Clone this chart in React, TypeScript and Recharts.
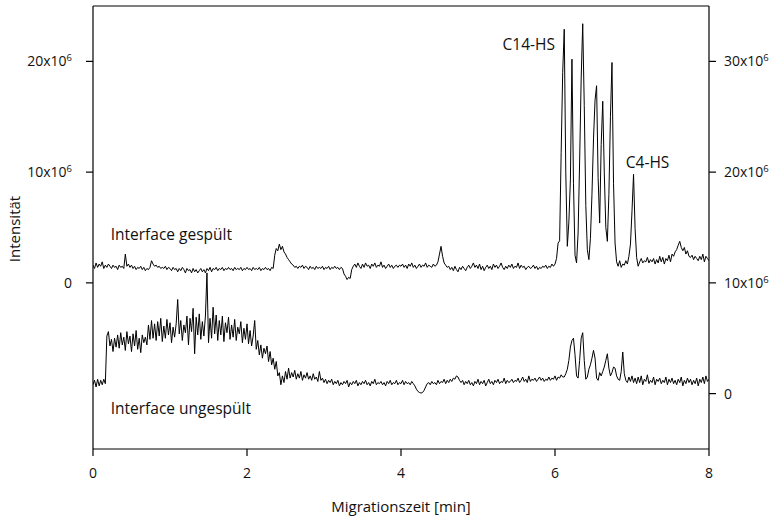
import React from 'react';
import { LineChart, Line, XAxis, YAxis, ReferenceLine, ReferenceDot } from 'recharts';

// sampling step of both electropherograms, in minutes
const TIME_STEP = 0.02;

// "Interface gespült" – intensity x10^6, read on the left axis (one row = 0.2 min)
const GESPUELT = [
  1.6, 1.3, 1.8, 1.4, 1.7, 1.5, 1.9, 1.3, 1.6, 1.4,
  1.7, 1.5, 1.3, 1.6, 1.4, 1.5, 1.2, 1.6, 1.4, 1.5,
  1.3, 2.6, 1.5, 1.7, 1.4, 1.6, 1.3, 1.5, 1.2, 1.4,
  1.3, 1.5, 1.2, 1.4, 1.1, 1.3, 1.2, 1.4, 2.0, 1.7,
  1.5, 1.6, 1.4, 1.5, 1.3, 1.4, 1.3, 1.5, 1.2, 1.4,
  1.3, 1.1, 1.4, 1.2, 1.3, 1.0, 1.3, 1.1, 1.4, 1.2,
  0.9, 1.3, 1.1, 1.2, 0.9, 1.3, 1.0, 1.2, 0.9, 1.1,
  1.3, 1.0, 1.2, 0.9, 1.3, 1.1, 1.4, 1.0, 1.3, 1.2,
  1.4, 1.1, 1.3, 1.2, 1.4, 1.1, 1.3, 1.2, 1.4, 1.2,
  1.3, 1.1, 1.4, 1.2, 1.3, 1.2, 1.4, 1.1, 1.3, 1.2,
  1.4, 1.2, 1.3, 1.1, 1.4, 1.2, 1.3, 1.2, 1.4, 1.1,
  1.3, 1.2, 1.4, 1.2, 1.3, 1.1, 1.4, 1.3, 2.5, 3.1,
  2.9, 3.5, 3.0, 3.3, 2.8, 2.6, 2.3, 2.1, 1.9, 1.7,
  1.6, 1.4, 1.5, 1.3, 1.5, 1.4, 1.6, 1.3, 1.5, 1.4,
  1.2, 1.5, 1.3, 1.4, 1.2, 1.5, 1.3, 1.4, 1.3, 1.5,
  1.2, 1.4, 1.3, 1.5, 1.2, 1.4, 1.3, 1.5, 1.3, 1.4,
  1.2, 1.4, 1.3, 0.8, 0.6, 0.3, 0.5, 0.4, 1.2, 1.5,
  1.7, 1.4, 1.8, 1.5, 1.3, 1.7, 1.4, 1.8, 1.5, 1.6,
  1.3, 1.7, 1.5, 1.8, 1.4, 1.6, 1.5, 1.9, 1.4, 1.6,
  1.3, 1.5, 1.7, 1.4, 1.6, 1.3, 1.5, 1.6, 1.4, 1.6,
  1.5, 1.7, 1.4, 1.6, 1.3, 1.7, 1.5, 1.8, 1.4, 1.6,
  1.3, 1.5, 1.7, 1.4, 1.6, 1.5, 1.8, 1.4, 1.6, 1.5,
  1.4, 1.7, 1.5, 1.6, 1.9, 2.6, 3.3, 2.4, 1.8, 1.6,
  1.4, 1.5, 1.2, 1.4, 1.1, 1.5, 1.2, 1.0, 1.4, 1.2,
  1.5, 1.3, 1.1, 1.4, 1.6, 1.3, 1.5, 1.8, 1.4, 1.6,
  1.3, 1.7, 1.2, 1.5, 1.1, 1.4, 1.6, 1.3, 1.5, 1.2,
  1.7, 1.4, 1.6, 1.3, 1.5, 1.8, 1.4, 1.2, 1.5, 1.3,
  1.6, 1.4, 1.7, 1.3, 1.5, 1.4, 1.8, 1.3, 1.6, 1.4,
  1.5, 1.2, 1.4, 1.5, 1.3, 1.4, 1.6, 1.3, 1.5, 1.2,
  1.4, 1.3, 1.5, 1.4, 1.6, 1.3, 1.5, 1.4, 1.7, 1.5,
  1.7, 2.2, 3.6, 3.8, 11.8, 19.0, 22.9, 10.0, 3.3, 5.5,
  9.3, 20.2, 9.0, 2.5, 1.8, 4.5, 11.0, 18.5, 23.4, 16.0,
  7.0, 3.0, 2.1, 4.0, 8.0, 13.0, 16.5, 17.8, 9.5, 5.4,
  12.5, 16.4, 10.0, 5.0, 3.75, 8.0, 15.0, 19.9, 9.0, 3.6,
  1.9, 1.5, 2.0, 1.4, 1.7, 1.6, 2.0, 1.7, 2.4, 3.5,
  6.5, 9.8, 4.9, 2.3, 1.5, 1.9, 2.2, 1.8, 2.0, 1.9,
  2.3, 1.8, 2.1, 1.9, 2.2, 1.7, 2.1, 1.8, 2.4, 1.9,
  2.3, 1.7, 2.2, 2.0, 2.5, 1.9, 2.6, 2.4, 2.8, 3.0,
  3.4, 3.75, 3.2, 2.9, 3.2, 2.6, 2.9, 2.4, 2.3, 2.5,
  2.1, 2.4, 2.2, 2.0, 2.4, 2.1, 2.6, 1.9, 2.4, 2.2,
  2.0,
];

// "Interface ungespült" – intensity x10^6, read on the right axis (one row = 0.2 min)
const UNGESPUELT = [
  0.8, 1.2, 0.6, 1.3, 0.7, 1.2, 0.8, 1.3, 0.9, 5.2,
  5.6, 4.3, 4.9, 3.8, 5.0, 4.2, 5.3, 4.1, 5.5, 4.4,
  5.1, 3.9, 5.6, 4.5, 5.2, 3.8, 5.4, 4.3, 5.7, 4.0,
  5.0, 3.7, 5.3, 4.6, 5.1, 4.4, 6.2, 4.9, 6.6, 5.0,
  6.3, 4.8, 6.5, 5.2, 6.8, 4.7, 6.1, 5.0, 6.7, 5.3,
  6.4, 4.6, 6.0, 5.1, 6.3, 8.5, 5.4, 6.6, 4.8, 6.2,
  5.5, 7.0, 4.4, 6.8, 5.6, 7.7, 3.6, 6.9, 5.3, 7.2,
  4.9, 6.5, 5.2, 7.0, 10.9, 4.6, 6.8, 5.0, 7.8, 5.4,
  7.1, 4.8, 6.6, 5.3, 7.0, 4.7, 6.4, 5.5, 6.9, 4.9,
  6.2, 5.1, 6.7, 4.8, 6.0, 5.4, 6.5, 4.6, 5.9, 4.9,
  6.3, 4.5, 5.7, 4.3, 5.2, 6.6, 4.0, 4.8, 3.5, 4.4,
  3.2, 4.1, 3.6, 4.3, 2.9, 3.8, 2.6, 3.2, 2.2, 2.9,
  1.6, 1.9, 0.8, 1.6, 1.0, 2.0, 1.3, 2.3, 1.4, 1.9,
  1.5, 2.1, 1.3, 1.8, 1.4, 2.0, 1.2, 1.7, 1.4, 1.9,
  1.3, 1.6, 1.2, 1.8, 1.3, 1.5, 1.1, 2.0, 1.2, 1.4,
  1.0, 1.3, 0.9, 1.2, 1.0, 1.3, 0.8, 1.1, 0.9, 1.2,
  0.7, 1.0, 0.8, 1.1, 0.9, 1.2, 0.6, 1.0, 0.8, 1.1,
  0.9, 1.2, 0.7, 1.0, 0.8, 1.1, 0.9, 1.2, 0.8, 1.0,
  0.7, 1.1, 0.9, 1.3, 0.8, 1.0, 0.9, 1.1, 0.8, 1.0,
  0.7, 1.1, 0.9, 1.2, 0.8, 1.0, 0.9, 1.2, 0.8, 1.0,
  0.9, 1.2, 0.8, 1.1, 0.9, 1.0, 0.8, 1.1, 0.9, 0.7,
  0.4, 0.2, 0.1, 0.05, 0.1, 0.3, 0.6, 0.9, 1.0, 0.8,
  1.1, 0.9, 1.0, 0.8, 1.2, 0.9, 1.1, 1.0, 1.3, 0.9,
  1.2, 1.0, 1.3, 1.1, 1.4, 1.3, 1.6, 1.5, 1.2, 1.0,
  1.2, 0.8, 1.1, 0.9, 1.2, 0.8, 1.0, 0.7, 1.1, 0.9,
  1.3, 0.8, 1.1, 0.9, 1.2, 0.7, 1.0, 1.3, 0.9, 1.1,
  0.8, 1.2, 1.0, 1.3, 0.9, 1.1, 1.0, 1.4, 0.9, 1.2,
  1.0, 1.1, 1.3, 1.0, 1.2, 1.1, 1.4, 1.0, 1.2, 1.5,
  1.1, 1.3, 1.0, 1.6, 1.1, 1.3, 1.2, 1.4, 1.1, 1.3,
  1.5, 1.2, 1.4, 1.1, 1.3, 1.2, 1.5, 1.2, 1.4, 1.3,
  1.6, 1.2, 1.5, 1.4, 1.7, 1.5, 1.5, 1.8, 2.2, 3.0,
  4.2, 4.8, 5.0, 3.5, 1.6, 1.4, 3.0, 5.0, 5.5, 3.0,
  1.3, 1.5, 2.2, 2.6, 3.2, 3.9, 3.2, 1.4, 1.2, 1.9,
  1.6, 2.0, 2.4, 3.0, 3.6, 2.3, 1.6, 1.9, 2.4, 2.3,
  1.6, 1.3, 1.2, 2.0, 3.76, 1.8, 1.2, 1.0, 1.5, 1.1,
  1.6, 1.0, 1.4, 0.9, 1.5, 1.0, 1.6, 0.8, 1.3, 1.1,
  1.7, 0.9, 1.2, 1.0, 1.5, 0.8, 1.3, 1.1, 1.4, 0.9,
  1.2, 1.0, 1.5, 0.8, 1.3, 1.0, 1.4, 0.9, 1.2, 0.8,
  1.3, 1.0, 1.5, 0.7, 1.2, 0.9, 1.4, 1.0, 1.3, 0.8,
  1.2, 0.9, 1.4, 0.7, 1.3, 1.0, 1.5, 0.9, 1.6, 1.1,
  1.3,
];

const X_TICKS = [0, 2, 4, 6, 8];
const LEFT_TICKS = [0, 10, 20];
const RIGHT_TICKS = [0, 10, 20, 30];
const LEFT_DOMAIN = [-15, 25];
const RIGHT_DOMAIN = [-5, 35];

// annotation texts with their anchor in data coordinates (time, intensity x10^6)
const ANNOTATION_TEXTS = ['Interface gespült', 'Interface ungespült', 'C14-HS', 'C4-HS'];
const ANNOTATION_T = [0.23, 0.23, 6.0, 6.92];
const ANNOTATION_V = [3.9, -1.8, 21.05, 10.38];
const ANNOTATION_AXIS = ['left', 'right', 'left', 'left'];
const ANNOTATION_ANCHOR = ['start', 'start', 'end', 'start'];

const FONT = "'Open Sans', sans-serif";

const data = GESPUELT.map((v, i) => ({
  t: Math.round(i * TIME_STEP * 100) / 100,
  gespuelt: v,
  ungespuelt: UNGESPUELT[i],
}));

const YTick = (anchor: 'start' | 'end') => (props: any) => {
  const { x, y, payload } = props;
  const v = payload.value;
  return (
    <text x={x} y={y} dy="0.36em" textAnchor={anchor} fontFamily={FONT} fontSize={14} fill="#111">
      {v === 0 ? (
        '0'
      ) : (
        <>
          <tspan>{`${v}x10`}</tspan>
          <tspan dy={-5} fontSize={9.5}>6</tspan>
        </>
      )}
    </text>
  );
};

const XTick = (props: any) => {
  const { x, y, payload } = props;
  return (
    <text x={x} y={y} dy={20} textAnchor="middle" fontFamily={FONT} fontSize={14} fill="#111">
      {payload.value}
    </text>
  );
};

const getCenter = (vb: any) => {
  if (!vb) return null;
  if (vb.cx !== undefined) return { x: vb.cx, y: vb.cy };
  return { x: vb.x + (vb.width || 0) / 2, y: vb.y + (vb.height || 0) / 2 };
};

const XTitle = (props: any) => {
  const vb = props.viewBox;
  if (!vb) return null;
  return (
    <text x={vb.x + vb.width / 2} y={vb.y + vb.height - 8.3} textAnchor="middle" fontFamily={FONT} fontSize={15} fill="#111">
      Migrationszeit [min]
    </text>
  );
};

const YTitle = (props: any) => {
  const vb = props.viewBox;
  if (!vb) return null;
  const x = vb.x + 20;
  const y = vb.y + vb.height / 2 + 1.5;
  return (
    <text x={x} y={y} textAnchor="middle" transform={`rotate(-90 ${x} ${y})`} fontFamily={FONT} fontSize={15} fill="#111">
      Intensität
    </text>
  );
};

const AnnotationLabel = (text: string, anchor: string) => (props: any) => {
  const c = getCenter(props.viewBox);
  if (!c) return null;
  return (
    <text x={c.x} y={c.y} textAnchor={anchor as any} fontFamily={FONT} fontSize={15.5} fill="#111">
      {text}
    </text>
  );
};

export default function App() {
  return (
    <div style={{ position: 'absolute', left: 0, top: 0, width: 778, height: 520, background: '#fff' }}>
      <LineChart width={778} height={520} data={data} margin={{ top: 6, right: 0, bottom: 0, left: 0 }}>
        <XAxis
          dataKey="t"
          type="number"
          domain={[0, 8]}
          ticks={X_TICKS}
          allowDataOverflow
          height={71}
          tickSize={7}
          tickMargin={2}
          tick={XTick}
          stroke="#000"
          axisLine={{ stroke: '#000', strokeWidth: 1.2 }}
          tickLine={{ stroke: '#000', strokeWidth: 1.2 }}
          label={{ content: XTitle }}
        />
        <YAxis
          yAxisId="left"
          domain={LEFT_DOMAIN}
          ticks={LEFT_TICKS}
          allowDataOverflow
          width={93}
          tickSize={7}
          tickMargin={14}
          tick={YTick('end')}
          axisLine={{ stroke: '#000', strokeWidth: 1.2 }}
          tickLine={{ stroke: '#000', strokeWidth: 1.2 }}
          label={{ content: YTitle }}
        />
        <YAxis
          yAxisId="right"
          orientation="right"
          domain={RIGHT_DOMAIN}
          ticks={RIGHT_TICKS}
          allowDataOverflow
          width={69}
          tickSize={7}
          tickMargin={8}
          tick={YTick('start')}
          axisLine={{ stroke: '#000', strokeWidth: 1.2 }}
          tickLine={{ stroke: '#000', strokeWidth: 1.2 }}
        />
        <ReferenceLine yAxisId="left" y={LEFT_DOMAIN[1]} stroke="#000" strokeWidth={1.2} ifOverflow="visible" />
        <Line
          yAxisId="left"
          dataKey="gespuelt"
          type="linear"
          stroke="#000"
          strokeWidth={1}
          dot={false}
          activeDot={false}
          isAnimationActive={false}
        />
        <Line
          yAxisId="right"
          dataKey="ungespuelt"
          type="linear"
          stroke="#000"
          strokeWidth={1}
          dot={false}
          activeDot={false}
          isAnimationActive={false}
        />
        {ANNOTATION_TEXTS.map((txt, i) => (
          <ReferenceDot
            key={txt}
            yAxisId={ANNOTATION_AXIS[i]}
            x={ANNOTATION_T[i]}
            y={ANNOTATION_V[i]}
            r={0}
            fill="none"
            stroke="none"
            ifOverflow="visible"
            label={{ content: AnnotationLabel(txt, ANNOTATION_ANCHOR[i]) }}
          />
        ))}
      </LineChart>
    </div>
  );
}
